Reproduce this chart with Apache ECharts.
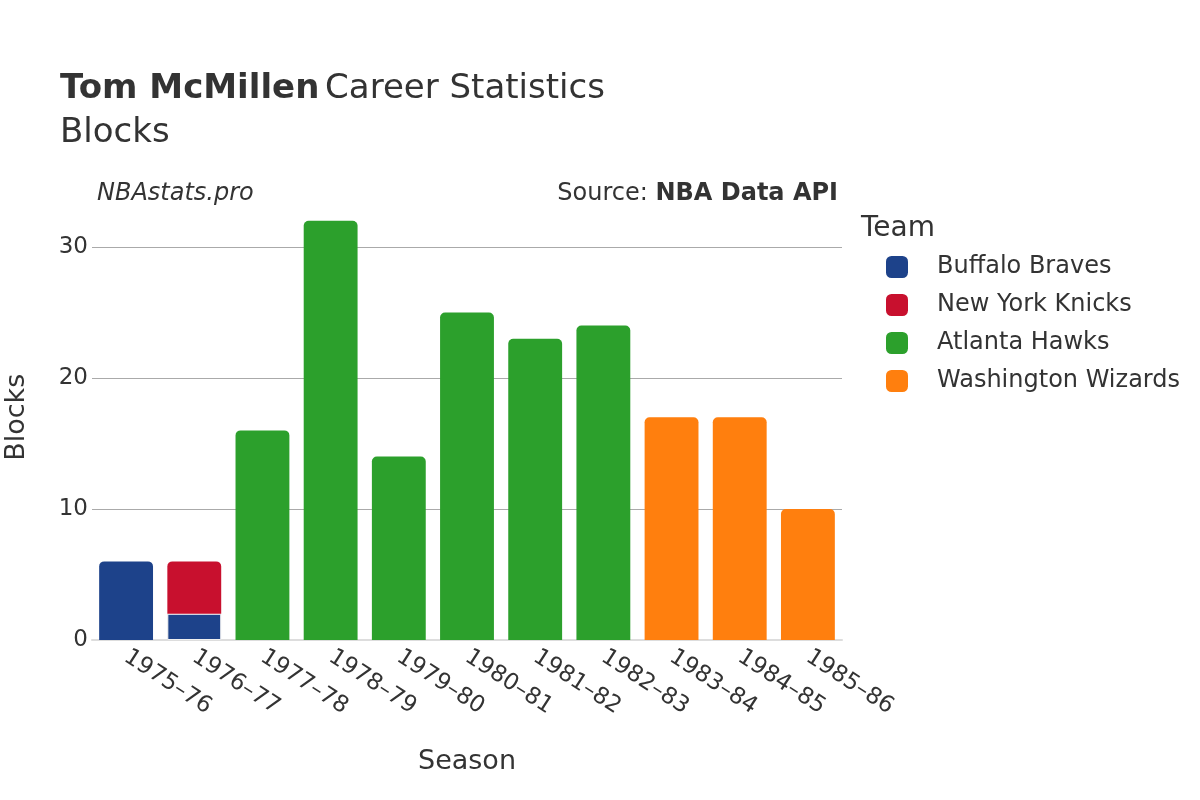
<!DOCTYPE html>
<html><head><meta charset="utf-8">
<script src="https://cdn.jsdelivr.net/npm/echarts@6/dist/echarts.min.js"></script>
<style>html,body{margin:0;padding:0;background:#fff}#c{width:1200px;height:800px}</style>
</head><body><div id="c"></div>
<script>
const seasons = ['1975–76','1976–77','1977–78','1978–79','1979–80','1980–81','1981–82','1982–83','1983–84','1984–85','1985–86'];
const teams = ['Buffalo Braves','New York Knicks','Atlanta Hawks','Washington Wizards'];
const teamColors = ['#1d428a','#c8102e','#2ca02c','#ff7f0e'];
const buffaloBraves    = [6, 2, null, null, null, null, null, null, null, null, null];
const newYorkKnicks    = [null, 4, null, null, null, null, null, null, null, null, null];
const atlantaHawks     = [null, null, 16, 32, 14, 25, 23, 24, null, null, null];
const washingtonWizards= [null, null, null, null, null, null, null, null, 17, 17, 10];
const yTicks = [0, 10, 20, 30];
const seriesData = [buffaloBraves, newYorkKnicks, atlantaHawks, washingtonWizards];

const font = 'DejaVu Sans';
const chart = echarts.init(document.getElementById('c'), null, {renderer:'canvas'});
chart.setOption({
  animation:false,
  textStyle:{fontFamily:font},
  title:[
    {left:60, top:67, padding:0, text:'{b|Tom McMillen} {n|Career Statistics}\n{n|Blocks}',
     textStyle:{fontWeight:'normal',rich:{b:{fontFamily:font,fontSize:34,fontWeight:'bold',color:'#333',lineHeight:44},
                      n:{fontFamily:font,fontSize:34,fontWeight:'normal',color:'#333',lineHeight:44}}}},
    {left:97, top:182, padding:0, text:'NBAstats.pro', textStyle:{fontFamily:font,fontSize:24,fontStyle:'italic',fontWeight:'normal',color:'#333'}},
    {right:362, top:182, padding:0, text:'{n|Source: }{b|NBA Data API}',
     textStyle:{fontWeight:'normal',rich:{n:{fontFamily:font,fontSize:24,fontWeight:'normal',color:'#333'},b:{fontFamily:font,fontSize:24,fontWeight:'bold',color:'#333'}}}},
    {left:861, top:215, padding:0, text:'Team', textStyle:{fontFamily:font,fontSize:28,fontWeight:'normal',color:'#333'}}
  ],
  legend:{
    orient:'vertical', left:886, top:255, padding:0, itemWidth:22, itemHeight:22, itemGap:14,
    icon:'roundRect',
    textStyle:{fontFamily:font,fontSize:24,color:'#333',padding:[0,0,0,24],lineHeight:24},
    data:teams
  },
  grid:{left:92, right:358, top:640-13.1*34, bottom:160, containLabel:false, outerBoundsMode:'none'},
  xAxis:{
    type:'category', data:seasons,
    name:'Season', nameLocation:'middle', nameGap:108,
    nameTextStyle:{fontFamily:font,fontSize:27,color:'#333'},
    axisLine:{show:true,lineStyle:{color:'#ddd',width:2}},
    axisTick:{show:false},
    axisLabel:{rotate:-33, fontFamily:font, fontSize:23, color:'#333', margin:15, interval:0}
  },
  yAxis:{
    type:'value', min:0, max:34, interval:10,
    name:'Blocks', nameLocation:'middle', nameGap:62,
    nameTextStyle:{fontFamily:font,fontSize:27,color:'#333'},
    axisLine:{show:false}, axisTick:{show:false},
    axisLabel:{fontFamily:font,fontSize:23,color:'#333',margin:4,
      formatter:function(v){return yTicks.indexOf(v)>=0?String(v):'';}},
    splitLine:{showMaxLine:false, lineStyle:{color:'#aaa',width:1}}
  },
  series: teams.map((t,i)=>({
    name:t, type:'bar', stack:'total',
    data: i===0 ? seriesData[i].map((v,k)=>k===1?{value:v,itemStyle:{borderRadius:0,borderColor:'#f0f0f0',borderWidth:1}}:v) : seriesData[i],
    barCategoryGap:'21%',
    itemStyle:{color:teamColors[i], borderRadius:[5,5,0,0]},
  }))
});
</script></body></html>
